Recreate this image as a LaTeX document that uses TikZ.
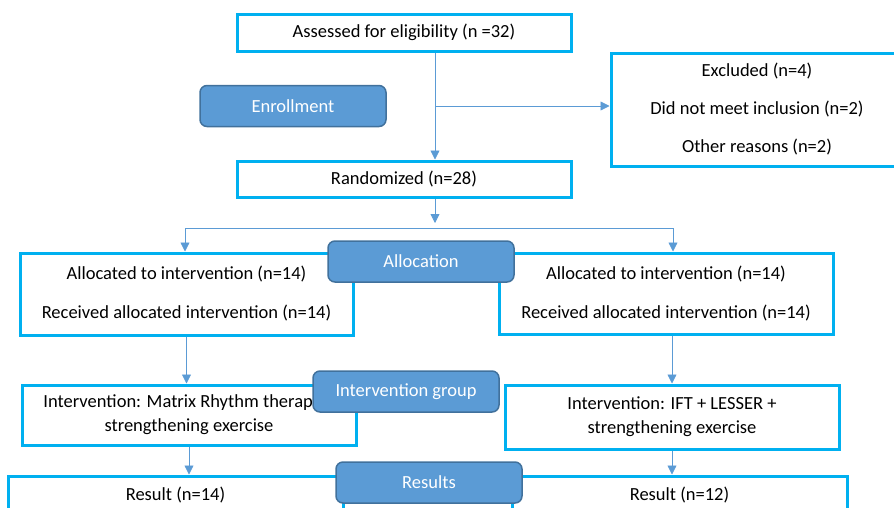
\documentclass[tikz,border=0pt]{standalone}
\usepackage{fontspec}
\setmainfont{Carlito}
\usetikzlibrary{positioning,arrows.meta}
\definecolor{boxblue}{RGB}{0,176,240}
\definecolor{tagfill}{RGB}{91,155,213}
\definecolor{tagedge}{RGB}{65,113,156}
\definecolor{arrowblue}{RGB}{91,155,213}

\begin{document}
\begin{tikzpicture}[x=1pt, y=-1pt,
font=\fontsize{18.5}{24}\selectfont,
box/.style={draw=boxblue, line width=3pt, fill=white, align=center, inner sep=0pt},
tag/.style={draw=tagedge, fill=tagfill, line width=1.5pt, rounded corners=7pt, text=white, minimum width=186pt, minimum height=41pt, inner sep=0pt},
link/.style={draw=arrowblue, line width=0.8pt},
arr/.style={link, -{Triangle[length=9pt,width=9pt]}}
]
\useasboundingbox (0,0) rectangle (894,507);
\clip (0,0) rectangle (894,507);
%Nodes
\node[box, minimum width=334pt, minimum height=37pt]  (assess) at (404,32.5)  {Assessed for eligibility (n =32)};
\node[box, minimum width=292pt, minimum height=113pt] (excl)   at (757,109.5) {Excluded (n=4)\\[14pt]Did not meet inclusion (n=2)\\[14pt]Other reasons (n=2)};
\node[box, minimum width=334pt, minimum height=36pt]  (rand)   at (404,179)   {Randomized (n=28)};
\node[box, minimum width=333pt, minimum height=82pt]  (allocL) at (186.5,294) {Allocated to intervention (n=14)\\[15pt]Received allocated intervention (n=14)};
\node[box, minimum width=334pt, minimum height=81pt]  (allocR) at (666,293.5) {Allocated to intervention (n=14)\\[15pt]Received allocated intervention (n=14)};
\node[box, minimum width=334pt, minimum height=60pt]  (intL)   at (189,415)   {Intervention: Matrix Rhythm therapy +\\strengthening exercise};
\node[box, minimum width=334pt, minimum height=64pt]  (intR)   at (672,417)   {Intervention: IFT + LESSER +\\strengthening exercise};
\node[box, minimum width=335pt, minimum height=38pt]  (resL)   at (175.5,495) {Result (n=14)};
\node[box, minimum width=335pt, minimum height=38pt]  (resR)   at (679.5,495) {Result (n=12)};
\node[tag] (enrol)  at (293,106)   {Enrollment};
\node[tag] (allocT) at (421,261.5) {Allocation};
\node[tag] (groupT) at (406,391.5) {Intervention group};
\node[tag] (resT)   at (429,482.5) {Results};
\coordinate (split)  at (435,106);
\coordinate (fork)   at (435,223);
\coordinate (forkL)  at (185,228);
\coordinate (forkR)  at (673,228);
%Lines
\draw[arr]  (assess.south -| split) -- (rand.north -| split);
\draw[arr]  (split) -- (split -| excl.west);
\draw[arr]  (rand.south -| fork) -- (fork);
\draw[link] (forkL) -- (forkR);
\draw[arr]  (forkL) -- (forkL |- allocL.north);
\draw[arr]  (forkR) -- (forkR |- allocR.north);
\draw[arr]  (allocL.south) -- (allocL.south |- intL.north);
\draw[arr]  (intR.north |- allocR.south) -- (intR.north);
\draw[arr]  (intL.south) -- (intL.south |- resL.north);
\draw[arr]  (intR.south) -- (intR.south |- resR.north);
\end{tikzpicture}
\end{document}
